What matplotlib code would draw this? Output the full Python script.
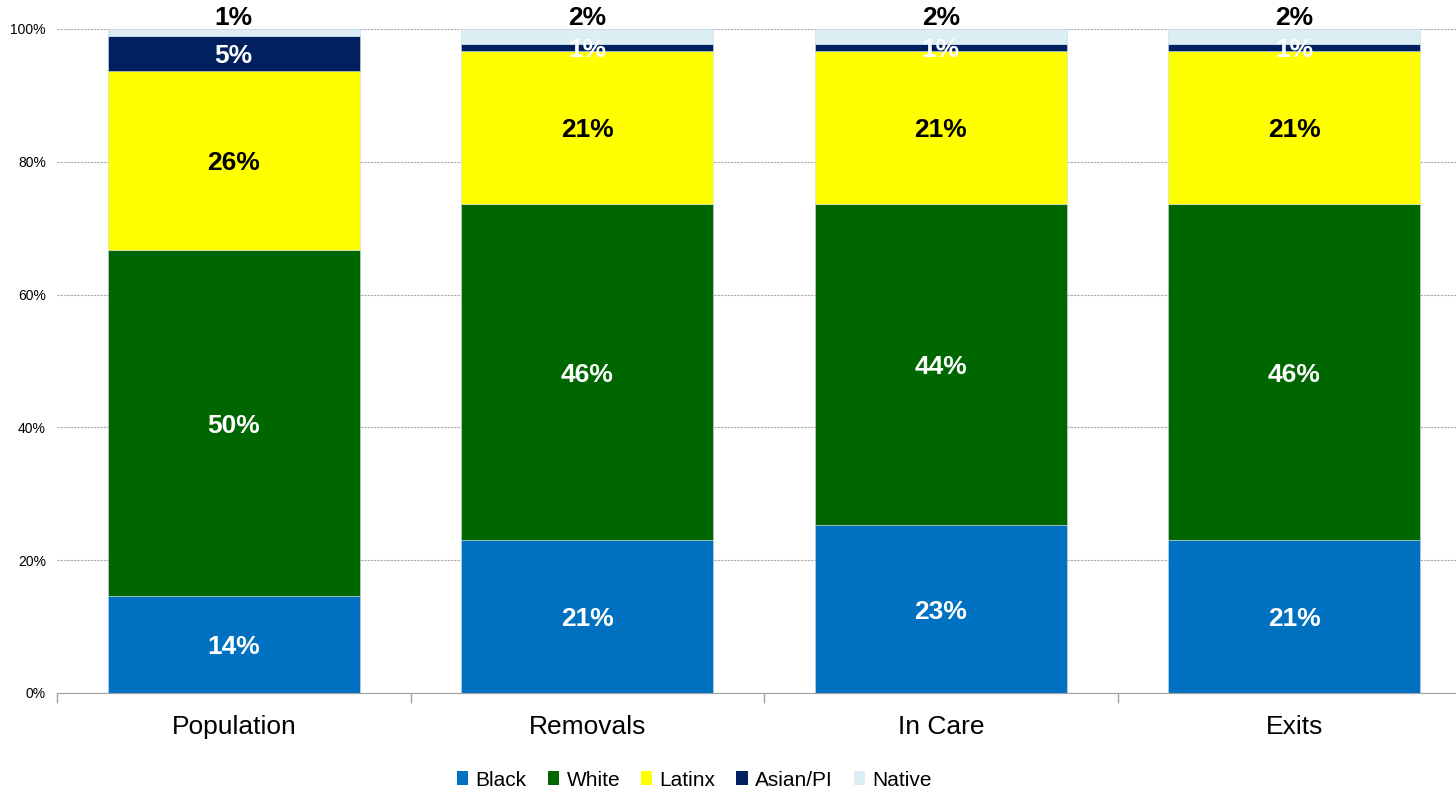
import numpy as np
import matplotlib.pyplot as plt
from matplotlib.patches import Patch

plt.rcParams['font.family'] = ['Liberation Sans', 'DejaVu Sans']

categories = ['Population', 'Removals', 'In Care', 'Exits']
groups = ['Black', 'White', 'Latinx', 'Asian/PI', 'Native']
black = [14, 21, 23, 21]
white = [50, 46, 44, 46]
latinx = [26, 21, 21, 21]
asian = [5, 1, 1, 1]
native = [1, 2, 2, 2]
colors = ['#0070C0', '#006600', '#FFFF00', '#002060', '#DAEEF3']
label_colors = ['white', 'white', 'black', 'white', 'black']

series = np.array([black, white, latinx, asian, native], dtype=float)
shares = series / series.sum(axis=0)   # 100% stacked
x = np.arange(len(categories))

fig = plt.figure(figsize=(14.56, 7.92), dpi=100)
ax = fig.add_axes([57/1456, 1 - 693/792, 1399/1456, (693 - 29)/792])

bottom = np.zeros(len(categories))
for i, g in enumerate(groups):
    ax.bar(x, shares[i], 0.713, bottom=bottom, color=colors[i],
           edgecolor='#c8dce8', linewidth=0.4, zorder=3)
    for j in range(len(categories)):
        lab = f'{int(series[i, j])}%'
        if g == 'Native':
            ax.annotate(lab, (x[j], 1.0), xytext=(0, -1), textcoords='offset points',
                        ha='center', va='bottom', fontsize=19, fontweight='bold',
                        color=label_colors[i], zorder=4, annotation_clip=False)
        else:
            ax.annotate(lab, (x[j], bottom[j] + shares[i, j] / 2), xytext=(0, -2),
                        textcoords='offset points', ha='center', va='center',
                        fontsize=19, fontweight='bold', color=label_colors[i], zorder=4)
    bottom += shares[i]

ax.set_yticks(np.arange(0, 1.01, 0.2))
ax.set_yticklabels([f'{int(v*100)}%' for v in np.arange(0, 1.01, 0.2)], fontsize=10)
ax.tick_params(axis='y', length=0, pad=8)
ax.set_xticks(x)
ax.set_xticklabels(categories, fontsize=19)
ax.tick_params(axis='x', length=0, pad=16)
ax.set_xticks(np.arange(-0.5, 3.6, 1), minor=True)
ax.tick_params(axis='x', which='minor', length=7, color='#a0a0a0', width=1)
ax.set_xlim(-0.5, -0.5 + 1399/353.5)
ax.set_ylim(0, 1)
ax.grid(axis='y', color='#a8a8a8', linestyle=(0, (2, 1)), linewidth=0.8, zorder=0)
for s in ['top', 'right', 'left']:
    ax.spines[s].set_visible(False)
ax.spines['bottom'].set_color('#a0a0a0')
ax.spines['bottom'].set_zorder(5)

handles = [Patch(facecolor=c, label=g) for g, c in zip(groups, colors)]
fig.legend(handles=handles, loc='center', bbox_to_anchor=(0.477, 0.015), ncol=5,
           frameon=False, fontsize=15, handlelength=0.55, handleheight=0.65,
           handletextpad=0.35, columnspacing=1.0)

fig.savefig('out.png', dpi=100)
